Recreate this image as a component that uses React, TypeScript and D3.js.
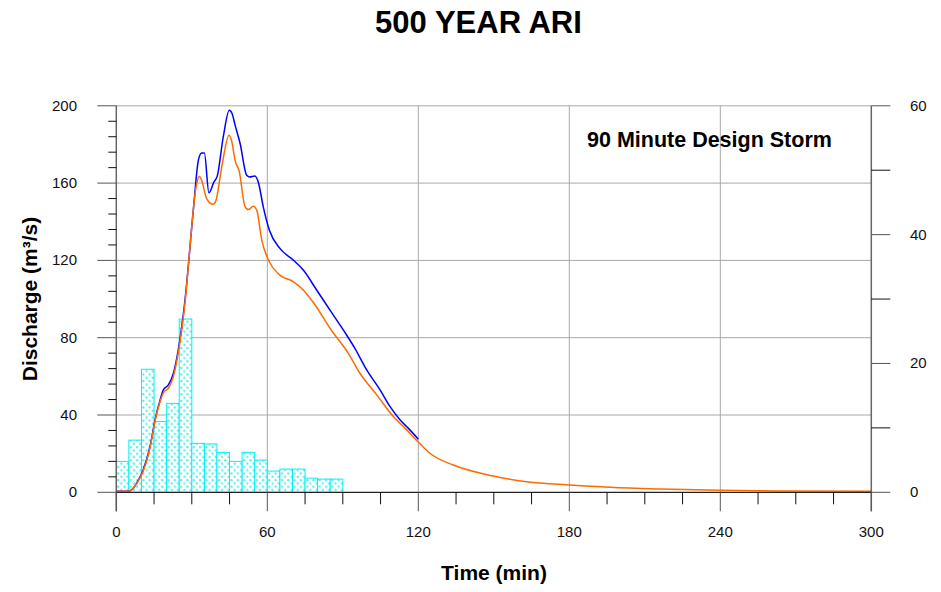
import React from "react";
import * as d3 from "d3";

// Rainfall hyetograph: 5-minute blocks (right axis)
const rainStart: number[] = [0, 5, 10, 15, 20, 25, 30, 35, 40, 45, 50, 55, 60, 65, 70, 75, 80, 85, 90];
const rainDepth: number[] = [4.8, 8.1, 19.1, 11.0, 13.8, 26.9, 7.6, 7.5, 6.2, 4.8, 6.2, 5.0, 3.3, 3.6, 3.6, 2.2, 2.05, 2.05, 0];

// Blue hydrograph (min, m3/s)
const blueTime: number[] = [0, 2, 4, 5.5, 7, 8.1, 10.7, 13.4, 15.4, 17.4, 18.7, 20.7, 22.7, 24.6, 26, 27.3, 30.6, 32.6, 33.9, 35, 36.8, 38.8, 40.1, 42.5, 44.9, 46, 47.2, 49.2, 51.8, 52.9, 55.1, 56.4, 58.4, 60.8, 65, 70.3, 74.3, 79.6, 84.9, 91.5, 94.8, 99.5, 104.8, 108.8, 112.7, 116, 120];
const blueFlow: number[] = [0.5, 0.5, 0.5, 0.8, 2.5, 4.7, 11.6, 23.7, 37.5, 47.8, 53, 55.6, 61.6, 73.6, 85.7, 99.5, 146, 171.8, 175.6, 175.6, 155, 160.6, 163.6, 183.9, 197.7, 196, 190, 180.5, 164, 163.2, 163.7, 160.6, 147.7, 135.7, 126.2, 120.2, 115, 104.7, 94.3, 81.4, 74.5, 63.3, 53, 44.3, 37.5, 33.2, 27.5];

// Orange hydrograph (min, m3/s)
const orangeTime: number[] = [0, 2, 4, 5.5, 7, 8.1, 10.7, 13.4, 15.4, 17.4, 18.7, 20.7, 22.7, 24.6, 26, 27.3, 28.6, 31.7, 33, 33.9, 35.9, 38.5, 39.6, 41.9, 44.8, 45.8, 47.2, 48.9, 51.1, 52.5, 54.4, 55.8, 57.8, 60.8, 65, 70.3, 74.3, 79, 84.9, 92.2, 96.8, 103.5, 110.1, 115.4, 120, 124.6, 133.9, 149.8, 163.1, 180.3, 196.2, 216, 239.8, 262.4, 300];
const orangeFlow: number[] = [0.5, 0.5, 0.5, 0.8, 2.5, 4.5, 11, 23, 37, 47, 51.5, 53.8, 60, 72, 84, 98, 116.7, 158, 163.6, 161.5, 152, 149, 151, 168.4, 184.8, 182, 171.8, 165.8, 148, 146.3, 148, 146, 130.5, 119.3, 112.4, 109, 104.7, 96.9, 84.9, 71.9, 61.6, 50.4, 39.2, 32.3, 26, 20.2, 14.1, 8.4, 5.5, 3.8, 2.6, 1.7, 1.0, 0.7, 0.5];

const xMajor: number[] = [0, 60, 120, 180, 240, 300];
const yLeftMajor: number[] = [0, 40, 80, 120, 160, 200];
const yRightMajor: number[] = [0, 20, 40, 60];

const W = 941;
const H = 592;
const FONT = "'Liberation Sans', Arial, Helvetica, sans-serif";

export default function App() {
  const x = d3.scaleLinear().domain([0, 300]).range([116.3, 871.3]);
  const yL = d3.scaleLinear().domain([0, 200]).range([492.3, 105.8]);
  const yR = d3.scaleLinear().domain([0, 60]).range([492.3, 105.8]);

  const xMinor = d3.range(0, 301, 15).filter((v) => v % 60 !== 0);
  const yLeftMinor = d3.range(0, 201, 8).filter((v) => v % 40 !== 0);
  const yRightMinor = [10, 30, 50];

  const line = d3
    .line<[number, number]>()
    .x((d) => x(d[0]))
    .y((d) => yL(d[1]))
    .curve(d3.curveMonotoneX);

  const blue = d3.zip(blueTime, blueFlow) as [number, number][];
  const orange = d3.zip(orangeTime, orangeFlow) as [number, number][];

  const left = x(0);
  const right = x(300);
  const bottom = yL(0);
  const top = yL(200);

  return (
    <svg
      width={W}
      height={H}
      style={{ position: "absolute", left: 0, top: 0, background: "#fff" }}
      fontFamily={FONT}
    >
      <defs>
        <pattern id="rainDots" width="6.3" height="6.6" patternUnits="userSpaceOnUse">
          <rect width="6.3" height="6.6" fill="#fff" />
          <circle cx="1.6" cy="1.6" r="1.1" fill="#40f0f0" />
          <circle cx="4.75" cy="4.9" r="1.1" fill="#40f0f0" />
        </pattern>
      </defs>
      <rect width={W} height={H} fill="#fff" />

      {/* grid */}
      {yLeftMajor.filter((v) => v > 0).map((v) => (
        <line key={"gy" + v} x1={left} x2={right} y1={yL(v)} y2={yL(v)} stroke="#a8a8a8" strokeWidth={1} />
      ))}
      {xMajor.filter((v) => v > 0 && v < 300).map((v) => (
        <line key={"gx" + v} x1={x(v)} x2={x(v)} y1={top} y2={bottom} stroke="#a8a8a8" strokeWidth={1} />
      ))}

      {/* rainfall bars */}
      {rainStart.map((t, i) => (
        <rect
          key={"r" + i}
          x={x(t)}
          y={yR(rainDepth[i])}
          width={x(t + 5) - x(t)}
          height={yR(0) - yR(rainDepth[i])}
          fill="url(#rainDots)"
          stroke="#00f0f0"
          strokeWidth={1}
        />
      ))}

      {/* hydrographs */}
      <path d={line(blue) || ""} fill="none" stroke="#0000ff" strokeWidth={1.5} />
      <path d={line(orange) || ""} fill="none" stroke="#ff6a00" strokeWidth={1.5} />

      {/* axes */}
      <line x1={left} x2={left} y1={top} y2={bottom + 19} stroke="#666" strokeWidth={1.5} />
      <line x1={right} x2={right} y1={top} y2={bottom + 19} stroke="#666" strokeWidth={1.5} />
      <line x1={left} x2={right} y1={bottom} y2={bottom} stroke="#222" strokeWidth={1.2} />

      {yLeftMajor.map((v) => (
        <g key={"yl" + v}>
          <line x1={left - 19} x2={left} y1={yL(v)} y2={yL(v)} stroke="#555" strokeWidth={1} />
          <text x={77} y={yL(v) + 5} textAnchor="end" fontSize={15} fill="#111">
            {v}
          </text>
        </g>
      ))}
      {yLeftMinor.map((v) => (
        <line key={"ylm" + v} x1={left - 8} x2={left} y1={yL(v)} y2={yL(v)} stroke="#111" strokeWidth={1} />
      ))}

      {yRightMajor.map((v) => (
        <g key={"yr" + v}>
          <line x1={right} x2={right + 19} y1={yR(v)} y2={yR(v)} stroke="#555" strokeWidth={1} />
          <text x={910} y={yR(v) + 5} textAnchor="start" fontSize={15} fill="#111">
            {v}
          </text>
        </g>
      ))}
      {yRightMinor.map((v) => (
        <line key={"yrm" + v} x1={right} x2={right + 19} y1={yR(v)} y2={yR(v)} stroke="#111" strokeWidth={1} />
      ))}

      {xMajor.map((v) => (
        <g key={"xt" + v}>
          <line x1={x(v)} x2={x(v)} y1={bottom} y2={bottom + 19} stroke="#555" strokeWidth={1} />
          <text x={x(v)} y={537} textAnchor="middle" fontSize={15} fill="#111">
            {v}
          </text>
        </g>
      ))}
      {xMinor.map((v) => (
        <line key={"xm" + v} x1={x(v)} x2={x(v)} y1={bottom} y2={bottom + 12} stroke="#111" strokeWidth={1} />
      ))}

      {/* titles */}
      <text x={478.5} y={33} textAnchor="middle" fontSize={31} fontWeight="bold" fill="#000">
        500 YEAR ARI
      </text>
      <text x={587} y={147} textAnchor="start" fontSize={21.5} fontWeight="bold" fill="#000">
        90 Minute Design Storm
      </text>
      <text x={494} y={580} textAnchor="middle" fontSize={21} fontWeight="bold" fill="#000">
        Time (min)
      </text>
      <text
        transform={`translate(37,${299}) rotate(-90)`}
        textAnchor="middle"
        fontSize={21}
        fontWeight="bold"
        fill="#000"
      >
        Discharge (m³/s)
      </text>
    </svg>
  );
}
